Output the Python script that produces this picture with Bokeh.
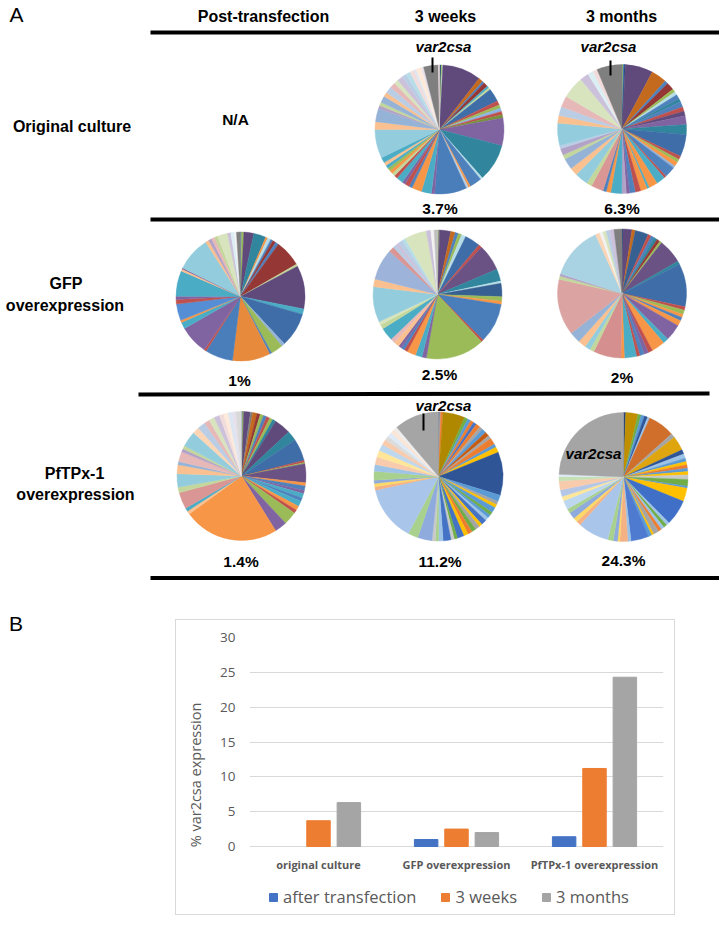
import numpy as np
from bokeh.plotting import figure
from bokeh.models import Range1d, FactorRange, Legend, LegendItem, ColumnDataSource, Div
from bokeh.layouts import column, row
from bokeh.transform import dodge
from bokeh.core.properties import value
from bokeh.embed import file_html
from bokeh.resources import INLINE

# ---------------- data ----------------
conditions = ["original culture", "GFP overexpression", "PfTPx-1 overexpression"]
row_labels = [["Original culture"], ["GFP", "overexpression"], ["PfTPx-1", "overexpression"]]
time_points = ["Post-transfection", "3 weeks", "3 months"]
series_names = ["after transfection", "3 weeks", "3 months"]
after_transfection = [float("nan"), 1, 1.4]      # original culture: N/A
weeks3 = [3.7, 2.5, 11.2]
months3 = [6.3, 2, 24.3]
y_ticks = [0, 5, 10, 15, 20, 25, 30]

# pie slices (degrees, clockwise from 12 o'clock)
oc_3w_vals = [1.5, 1, 0.5, 35, 4, 2, 4, 2, 2, 12, 4, 3, 3, 3, 3, 25, 34, 2, 11, 2, 2, 29, 3, 9, 9, 3, 4, 3, 6, 3, 3, 3, 3, 3, 3, 5,
              26, 7, 12, 3, 3, 6, 4, 6, 5, 4, 5, 4, 4, 4, 2, 5, 2, 13.3, 1]
oc_3m_vals = [1, 1, 1, 25, 14, 3, 7, 3, 3, 4, 3, 5, 4, 4, 8, 9, 20, 3, 3, 4, 2, 10, 2, 8, 8, 2, 6, 5, 5, 3, 4, 10, 4, 3, 11, 5,
              12, 7, 10, 4, 6, 3, 20, 7, 8, 10, 20, 8, 5, 4, 22.7]
gfp_post_vals = [1, 2, 9, 11, 2, 3, 2, 3, 3, 24, 2, 39, 5, 31, 3, 11, 2, 34, 25, 2, 26, 6, 2, 15, 4, 3, 23, 2, 1, 31, 3, 3, 3, 3,
                 9, 3, 3, 2, 3.6]
gfp_3w_vals = [1, 1, 10, 4, 3, 3, 4, 14, 3, 24, 11, 2, 12, 4, 3, 36, 2, 53, 4, 6, 8, 3, 3, 3, 5, 4, 12, 4, 3, 32, 7, 28, 5, 3, 3,
               4, 3, 20, 4, 3, 3]
gfp_3m_vals = [1, 8, 3, 12, 3, 3, 3, 3, 2, 22, 3, 39, 3, 4, 3, 3, 5, 15, 5, 12, 4, 4, 4, 3, 11, 3, 25, 4, 5, 7, 10, 51, 3, 2, 48,
               4, 3, 3, 3, 4, 7.2]
tpx_post_vals = [1, 1, 6, 2, 4, 3, 3, 3, 3, 3, 3, 15, 9, 20, 2, 1, 17, 3, 4, 3, 4, 3, 5, 4, 3, 12, 11, 86, 3, 3, 15, 5, 12, 8, 3,
                 9, 3, 3, 14, 6, 7, 5, 5, 5, 4, 4, 4, 3, 5]
tpx_3w_vals = [1, 1, 2, 20, 3, 3, 3, 3, 4, 3, 4, 4, 3, 6, 3, 5, 39, 6, 3, 3, 5, 3, 3, 3, 5, 3, 4, 4, 4, 4, 6, 3, 3, 7, 4, 3, 3,
               13, 9, 50, 3, 3, 3, 8, 6, 7, 6, 6, 5, 4, 4, 4, 3, 40.3]
tpx_3m_vals = [2, 11, 3, 3, 3, 2, 24, 4, 13, 4, 4, 3, 3, 3, 3, 3, 4, 6, 2, 12, 23, 3, 3, 3, 3, 5, 2, 3, 16, 3, 7, 2, 4, 5, 28, 4,
               4, 6, 4, 8, 4, 6, 8, 4, 2, 87.5]

# ---------------- styles ----------------
B, R, G, P, A, O = "#4F81BD", "#C0504D", "#9BBB59", "#8064A2", "#4BACC6", "#F79646"
dB, dR, dG, dP, dA, dO = "#376092", "#953735", "#77933C", "#604A7B", "#31859C", "#C46A1F"
mB, mP = "#3E6DA8", "#6A5284"
lB, lR, lG, lP, lA, lO = "#95B3D7", "#D99694", "#C3D69B", "#B3A2C7", "#93CDDD", "#FAC090"
xB, xR, xG, xP, xA, xO = "#B9CDE5", "#E6B9B8", "#D7E4BD", "#CCC1DA", "#B7DEE8", "#FCD5B5"
zB, zR, zG, zP, zA, zO = "#DCE6F2", "#F2DCDB", "#EBF1DE", "#E6E0EC", "#DBEEF4", "#FDEADA"
NV, GR = "#1F497D", "#7F7F7F"
b, o, g, y, b2, gr = "#5B9BD5", "#ED7D31", "#A5A5A5", "#FFC000", "#4472C4", "#70AD47"
lb, lo, lg, ly, lb2, lgr = "#9DC3E6", "#F4B183", "#C9C9C9", "#FFD966", "#8FAADC", "#A9D18E"

oc_3w_cols = [NV, G, zA, dP, dO, B, dR, A, lG, mB, R, G, "#8EB4E3", R, dG, P, dA, xA, B, O, xB, "#4A7EBB", P, A, O, B, R, P, A, R,
              lG, O, G, A, lO, A, lA, lO, lB, lP, lG, lB, lO, xB, xR, xG, xP, xB, xA, zR, zB, zO, zP, GR, zR]
oc_3m_cols = [G, B, NV, dP, dO, B, dR, G, xA, B, dA, B, R, dP, P, dA, mB, R, G, O, lB, B, R, A, O, A, O, R, B, P, lP, A, O, B,
              lR, lG, lA, lO, lB, lG, lP, xB, lA, lO, xB, xR, xG, xP, zA, zR, GR]
gfp_post_cols = [B, G, dP, dA, O, xA, B, dR, B, dR, lG, dP, A, mB, lB, G, B, "#E88A3C", "#4A7EBB", R, P, A, O, "#558ED5", R, P,
                 A, lO, P, lA, lO, lP, xR, lG, xG, xP, zA, "#F2F2F2", GR]
gfp_3w_cols = [G, GR, dP, dO, B, G, xA, mB, R, mP, dA, xA, dB, G, O, "#4A7EBB", R, G, P, A, O, R, B, P, lO, xR, A, lG, xG, lA,
               lO, "#9DB3D9", lR, xB, xP, xB, xA, xG, xP, "#F2F2F2", "#BFBFBF"]
gfp_3m_cols = [NV, dP, dO, dB, R, B, dA, dR, G, mP, dA, mB, R, G, O, B, O, P, A, O, R, P, B, R, A, O, "#D48F8E", lG, lA, lO,
               lB, "#DBA3A2", lG, lP, "#A9D3E2", xO, "#F2F2F2", xG, xB, xP, GR]
tpx_post_cols = [NV, G, dP, GR, dO, dR, G, B, R, G, dA, dP, dA, mB, R, G, mP, O, B, P, A, B, A, O, R, G, P, O, lO, A, lR, lG,
                 lA, lO, lB, xR, lP, lG, lA, xO, xB, xR, xG, xP, zR, zO, zB, zP, "#D9D9D9"]
tpx_3w_cols = ["#264478", g, o, "#B08800", gr, b, o, b2, o, g, b, "#C55A11", g, o, b, y, "#2F5597", b, g, y, b, gr, b, lb,
               b2, y, g, gr, o, y, b2, gr, lg, b2, lb, lgr, lg, lb2, lgr, "#A9C6EA", lo, ly, lb2, lgr, lb, "#F8CBAD",
               "#FFE699", "#BDD7EE", "#F8CBAD", "#DBDBDB", "#DEEBF7", "#FBE5D6", "#EDEDED", g]
tpx_3m_cols = ["#264478", "#BF8F00", gr, b, "#2F5597", lb, "#D06F2C", g, "#DEA50E", "#2F5597", lb, b, y, o, b, y, lg, gr, b,
               y, "#3F6FC6", lb, gr, lb, o, g, y, b, "#4E7BD0", lb, lo, ly, lb2, lgr, "#A9C6EA", lo, ly, lb2, lgr,
               "#BDD7EE", "#FFE699", "#B4C7E7", "#F8CBAD", "#C5E0B4", "#DEEBF7", g]

FONT = value("Liberation Sans")

# ---------------- panel A ----------------
pa = figure(width=719, height=619, x_range=Range1d(0, 719), y_range=Range1d(619, 0),
            x_axis_type=None, y_axis_type=None, output_backend="svg", toolbar_location=None,
            min_border=0, outline_line_color=None, background_fill_color="white", border_fill_color="white")
pa.grid.visible = False

def draw_pie(p, cx, cy, r, vals, cols):
    v = np.asarray(vals, dtype=float)
    ang = v / v.sum() * 2 * np.pi
    cum = np.concatenate([[0.0], np.cumsum(ang)])
    src = ColumnDataSource(dict(x=[cx] * len(v), y=[cy] * len(v),
                                s=np.pi / 2 - cum[:-1], e=np.pi / 2 - cum[1:], c=cols))
    p.wedge(x="x", y="y", radius=r, start_angle="s", end_angle="e", direction="clock",
            fill_color="c", line_color="c", line_width=0.4, source=src)

pie_layout = [
    (oc_3w_vals, oc_3w_cols, 439, 129), (oc_3m_vals, oc_3m_cols, 621.5, 128.5),
    (gfp_post_vals, gfp_post_cols, 240, 296), (gfp_3w_vals, gfp_3w_cols, 437, 294), (gfp_3m_vals, gfp_3m_cols, 621.5, 293),
    (tpx_post_vals, tpx_post_cols, 241, 475.5), (tpx_3w_vals, tpx_3w_cols, 438, 476), (tpx_3m_vals, tpx_3m_cols, 623, 476.5),
]
for vals, cols, cx, cy in pie_layout:
    draw_pie(pa, cx, cy, 64.5, vals, cols)

# rules of the table
pa.segment(x0=[150, 150, 138, 150], y0=[32, 219, 394, 577.5], x1=[721, 721, 709, 721], y1=[32, 219, 393, 577.5],
           line_color="black", line_width=4)

bold = dict(text_font=FONT, text_font_style="bold", text_align="center", text_baseline="middle", text_color="black")
pa.text(x=[263, 445, 621], y=[16, 16, 16], text=time_points, text_font_size="16px", **bold)
pa.text(x=[71.5, 65.5, 64.5, 74, 75], y=[126, 283, 305, 473, 494],
        text=[row_labels[0][0], row_labels[1][0], row_labels[1][1], row_labels[2][0], row_labels[2][1]],
        text_font_size="16px", **bold)

def pct(v):
    return f"{v:g}%"

pa.text(x=[235], y=[119], text=["N/A"], text_font_size="15.5px", **bold)
pa.text(x=[439.5, 621.5, 239, 439, 621.5, 240.5, 439.5, 623],
        y=[208, 208, 379.5, 374, 377, 560.5, 560.5, 560],
        text=[pct(weeks3[0]), pct(months3[0]), pct(after_transfection[1]), pct(weeks3[1]), pct(months3[1]),
              pct(after_transfection[2]), pct(weeks3[2]), pct(months3[2])],
        text_font_size="15.5px", **bold)

# var2csa labels
pa.text(x=[443, 608, 443, 593], y=[46, 46, 405, 452.5], text=["var2csa"] * 4, text_font=FONT,
        text_font_style="bold italic", text_font_size="15px", text_align="center", text_baseline="middle",
        text_color="black")
pa.segment(x0=[432, 610, 423], y0=[57, 60, 413], x1=[432, 610, 423], y1=[72, 75, 430], line_color="black", line_width=2)

pa.text(x=[9], y=[14], text=["A"], text_font=FONT, text_font_size="21px", text_align="left",
        text_baseline="middle", text_color="black")

# ---------------- panel B ----------------
label_b = Div(text='<div style="font-family: \'Liberation Sans\'; font-size: 21px; line-height: 21px; '
                   'margin: -8px 0 0 9px; color: black;">B</div>', width=175, height=298, margin=0)

GRAY_T = "#595959"
OS = "Open Sans"
# frame runs from 30 (top) down past 0 so that category labels and legend sit inside it
Y_LOW = 30 - 275 * 30 / 209
pb = figure(width=500, height=296, x_range=FactorRange(*conditions, range_padding=0), y_range=Range1d(Y_LOW, 30),
            output_backend="svg", toolbar_location=None, min_border_left=73, min_border_right=13,
            min_border_top=17, min_border_bottom=4, outline_line_color=None, x_axis_location=None,
            styles={"border": "1px solid #D9D9D9"}, margin=0)
src = ColumnDataSource(dict(cat=conditions, a=after_transfection, w=weeks3, m=months3))
r1 = pb.vbar(x=dodge("cat", -0.22, range=pb.x_range), top="a", bottom=0, width=0.17, color="#4472C4", source=src)
r2 = pb.vbar(x=dodge("cat", 0.0, range=pb.x_range), top="w", bottom=0, width=0.17, color="#ED7D31", source=src)
r3 = pb.vbar(x=dodge("cat", 0.22, range=pb.x_range), top="m", bottom=0, width=0.17, color="#A5A5A5", source=src)

# category labels under the zero line
pb.text(x="cat", y=-2.6, text="cat", source=src, text_font=value(OS), text_font_style="bold",
        text_font_size="11px", text_color=GRAY_T, text_align="center", text_baseline="middle")

pb.xgrid.visible = False
pb.ygrid.grid_line_color = "#D9D9D9"
pb.ygrid.grid_line_width = 1
pb.yaxis.ticker = y_ticks
ax = pb.yaxis[0]
ax.axis_line_color = None
ax.major_tick_line_color = None
ax.minor_tick_line_color = None
ax.major_tick_out = 0
ax.major_tick_in = 0
ax.major_label_text_color = GRAY_T
ax.major_label_text_font = OS
ax.major_label_text_font_size = "13.5px"
ax.major_label_standoff = 14
ax.axis_label = "% var2csa expression"
ax.axis_label_text_font = OS
ax.axis_label_text_font_style = "normal"
ax.axis_label_text_font_size = "14.5px"
ax.axis_label_text_color = GRAY_T
ax.axis_label_standoff = 12

legend = Legend(items=[LegendItem(label=series_names[0], renderers=[r1]),
                       LegendItem(label=series_names[1], renderers=[r2]),
                       LegendItem(label=series_names[2], renderers=[r3])],
                orientation="horizontal", location=(19, 4), border_line_color=None, background_fill_alpha=0,
                label_text_font=OS, label_text_font_size="16.5px", label_text_color=GRAY_T, label_height=20,
                glyph_width=10, glyph_height=10, label_standoff=5, spacing=24, padding=0, margin=0)
pb.add_layout(legend, "center")

layout = column(pa, row(label_b, pb))
open("out.html", "w").write(file_html(layout, INLINE))
